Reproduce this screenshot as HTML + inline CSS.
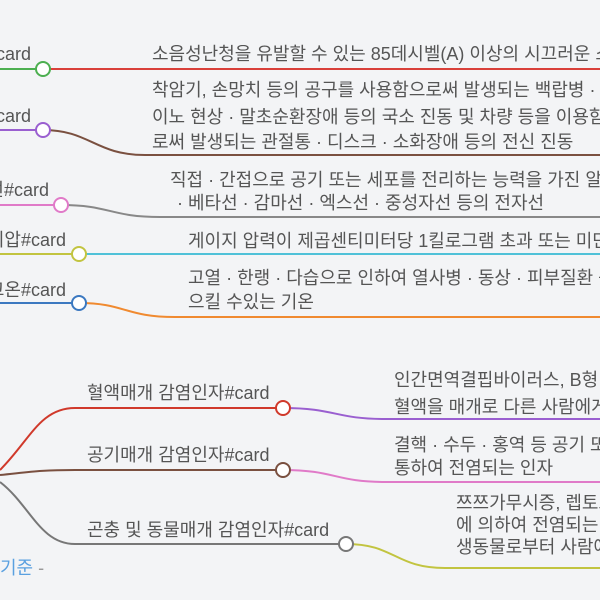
<!DOCTYPE html>
<html><head><meta charset="utf-8"><style>
html,body{margin:0;padding:0;background:#f3f4f6;}
svg{display:block;}
text{font-family:"Liberation Sans","Noto Sans CJK KR",sans-serif;font-size:18px;fill:#555;dominant-baseline:central;}
</style></head><body>
<svg width="600" height="600" viewBox="0 0 600 600" xmlns="http://www.w3.org/2000/svg">
<rect width="600" height="600" fill="#f3f4f6"/>
<g fill="none" stroke-width="2">
<line x1="0" y1="69" x2="43" y2="69" stroke="#4caf50"/>
<line x1="43" y1="69" x2="600" y2="69" stroke="#d9403a"/>
<line x1="0" y1="130" x2="43" y2="130" stroke="#9a5fd0"/>
<path d="M43 130 C90 130 95 155 145 155 L600 155" stroke="#7a5040"/>
<line x1="0" y1="205" x2="61" y2="205" stroke="#e07ac8"/>
<path d="M61 205 C110 205 110 217 160 217 L600 217" stroke="#888"/>
<line x1="0" y1="254" x2="79" y2="254" stroke="#c2c440"/>
<line x1="79" y1="254" x2="600" y2="254" stroke="#4fc1d8"/>
<line x1="0" y1="303" x2="79" y2="303" stroke="#3b78c0"/>
<path d="M79 303 C125 303 125 317 175 317 L600 317" stroke="#f08a30"/>
<path d="M0 470 C30 440 40 408 75 408 L283 408" stroke="#d0392b"/>
<path d="M283 408 C335 408 335 419 385 419 L600 419" stroke="#9a5fd0"/>
<path d="M0 475 C30 472 40 470 75 470 L283 470" stroke="#7a5040"/>
<path d="M283 470 C335 470 335 482 385 482 L600 482" stroke="#e07ac8"/>
<path d="M0 482 C30 505 40 544 75 544 L346 544" stroke="#777"/>
<path d="M346 544 C395 544 395 568 445 568 L600 568" stroke="#c2c440"/>
</g>
<g fill="#fff" stroke-width="2">
<circle cx="43" cy="69" r="7" stroke="#4caf50"/>
<circle cx="43" cy="130" r="7" stroke="#9a5fd0"/>
<circle cx="61" cy="205" r="7" stroke="#e07ac8"/>
<circle cx="79" cy="254" r="7" stroke="#c2c440"/>
<circle cx="79" cy="303" r="7" stroke="#3b78c0"/>
<circle cx="283" cy="408" r="7" stroke="#d0392b"/>
<circle cx="283" cy="470" r="7" stroke="#7a5040"/>
<circle cx="346" cy="544" r="7" stroke="#777"/>
</g>
<text x="31" y="54" text-anchor="end">card</text>
<text x="31" y="116" text-anchor="end">card</text>
<text x="49" y="190" text-anchor="end">선#card</text>
<text x="66" y="240" text-anchor="end">기압#card</text>
<text x="66" y="290" text-anchor="end">고온#card</text>
<text x="152" y="54">소음성난청을 유발할 수 있는 85데시벨(A) 이상의 시끄러운 소리</text>
<text x="152" y="90">착암기, 손망치 등의 공구를 사용함으로써 발생되는 백랍병 · 레</text>
<text x="152" y="117">이노 현상 · 말초순환장애 등의 국소 진동 및 차량 등을 이용함으</text>
<text x="152" y="142">로써 발생되는 관절통 · 디스크 · 소화장애 등의 전신 진동</text>
<text x="170" y="180">직접 · 간접으로 공기 또는 세포를 전리하는 능력을 가진 알파선</text>
<text x="177" y="203">· 베타선 · 감마선 · 엑스선 · 중성자선 등의 전자선</text>
<text x="188" y="241">게이지 압력이 제곱센티미터당 1킬로그램 초과 또는 미만인 기압</text>
<text x="188" y="278">고열 · 한랭 · 다습으로 인하여 열사병 · 동상 · 피부질환 등을 일</text>
<text x="188" y="302">으킬 수있는 기온</text>
<text x="87" y="393">혈액매개 감염인자#card</text>
<text x="87" y="455">공기매개 감염인자#card</text>
<text x="87" y="530">곤충 및 동물매개 감염인자#card</text>
<text x="394" y="380">인간면역결핍바이러스, B형·C형 간염바이러스 등</text>
<text x="394" y="407">혈액을 매개로 다른 사람에게 전염되는 인자</text>
<text x="394" y="445">결핵 · 수두 · 홍역 등 공기 또는 비말감염 등을</text>
<text x="394" y="468">통하여 전염되는 인자</text>
<text x="456" y="503">쯔쯔가무시증, 렙토스피라증 등</text>
<text x="456" y="525">에 의하여 전염되는 인자</text>
<text x="456" y="547">생동물로부터 사람에게</text>
<text x="0" y="568" style="fill:#5aa0e0">기준 <tspan style="fill:#999">-</tspan></text>
</svg>
</body></html>
